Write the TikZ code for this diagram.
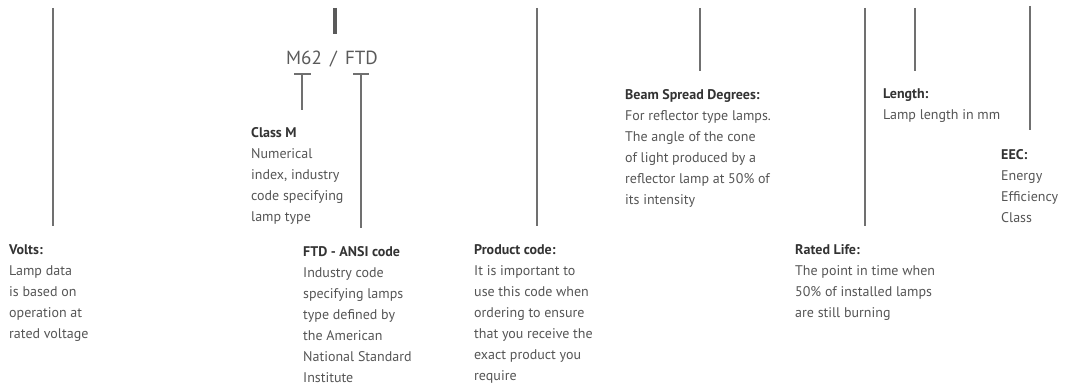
\documentclass[tikz,border=0pt]{standalone}
\usepackage{fontspec}
\setmainfont{PT Sans}
\definecolor{linegray}{HTML}{707070}
\definecolor{headgray}{HTML}{333333}
\definecolor{bodygray}{HTML}{555555}
\definecolor{codegray}{HTML}{5A5A5A}
\begin{document}
\begin{tikzpicture}[x=1pt,y=-1pt,
  lead/.style={draw=linegray,line width=1.1pt},
  desc/.style={anchor=north west,inner sep=0pt,align=left,text=bodygray,
    font=\fontsize{14}{21}\selectfont}]
\useasboundingbox (0,0) rectangle (1065,385);
\newcommand{\hdtxt}[1]{\textcolor{headgray}{\bfseries #1}}
% code
\node[inner sep=0pt,anchor=base,text=codegray,font=\fontsize{19}{22}\selectfont] (code) at (332,65) {M62 \,/\, FTD};
\coordinate (stemtop) at (335,8);
\coordinate (stembot) at (335,34);
\draw[draw=codegray,line width=3.5pt] (stemtop) -- (stembot);
% descriptions
\node[desc] (volts) at (9,244) {\hdtxt{Volts:}\\Lamp data\\is based on\\operation at\\rated voltage};
\node[desc] (classm) at (251,127) {\hdtxt{Class M}\\Numerical\\index, industry\\code specifying\\lamp type};
\node[desc] (ansi) at (303,246) {\hdtxt{FTD - ANSI code}\\Industry code\\specifying lamps\\type defined by\\the American\\National Standard\\Institute};
\node[desc] (prod) at (474,244) {\hdtxt{Product code:}\\It is important to\\use this code when\\ordering to ensure\\that you receive the\\exact product you\\require};
\node[desc] (beam) at (625,89) {\hdtxt{Beam Spread Degrees:}\\For reflector type lamps.\\The angle of the cone\\of light produced by a\\reflector lamp at 50\% of\\its intensity};
\node[desc] (life) at (795,244) {\hdtxt{Rated Life:}\\The point in time when\\50\% of installed lamps\\are still burning};
\node[desc] (len) at (883,89) {\hdtxt{Length:}\\Lamp length in mm};
\node[desc] (eec) at (1001,149) {\hdtxt{EEC:}\\Energy\\Efficiency\\Class};
% leader lines
\coordinate (v1) at (53,8);   \coordinate (v2) at (53,226);
\coordinate (p1) at (537,8);  \coordinate (p2) at (537,226);
\coordinate (b1) at (700,8);  \coordinate (b2) at (700,71);
\coordinate (r1) at (865,8);  \coordinate (r2) at (865,226);
\coordinate (l1) at (915,8);  \coordinate (l2) at (915,71);
\coordinate (e1) at (1030,6); \coordinate (e2) at (1030,130);
\draw[lead] (v1) -- (v2);
\draw[lead] (p1) -- (p2);
\draw[lead] (b1) -- (b2);
\draw[lead] (r1) -- (r2);
\draw[lead] (l1) -- (l2);
\draw[lead] (e1) -- (e2);
% T markers
\coordinate (m1) at (294,74); \coordinate (m2) at (311,74);
\coordinate (mt) at (302,74); \coordinate (mb) at (302,110);
\coordinate (f1) at (353,74); \coordinate (f2) at (369,74);
\coordinate (ft) at (361,74); \coordinate (fb) at (361,228);
\draw[lead] (m1) -- (m2);
\draw[lead] (mt) -- (mb);
\draw[lead] (f1) -- (f2);
\draw[lead] (ft) -- (fb);
\end{tikzpicture}
\end{document}
